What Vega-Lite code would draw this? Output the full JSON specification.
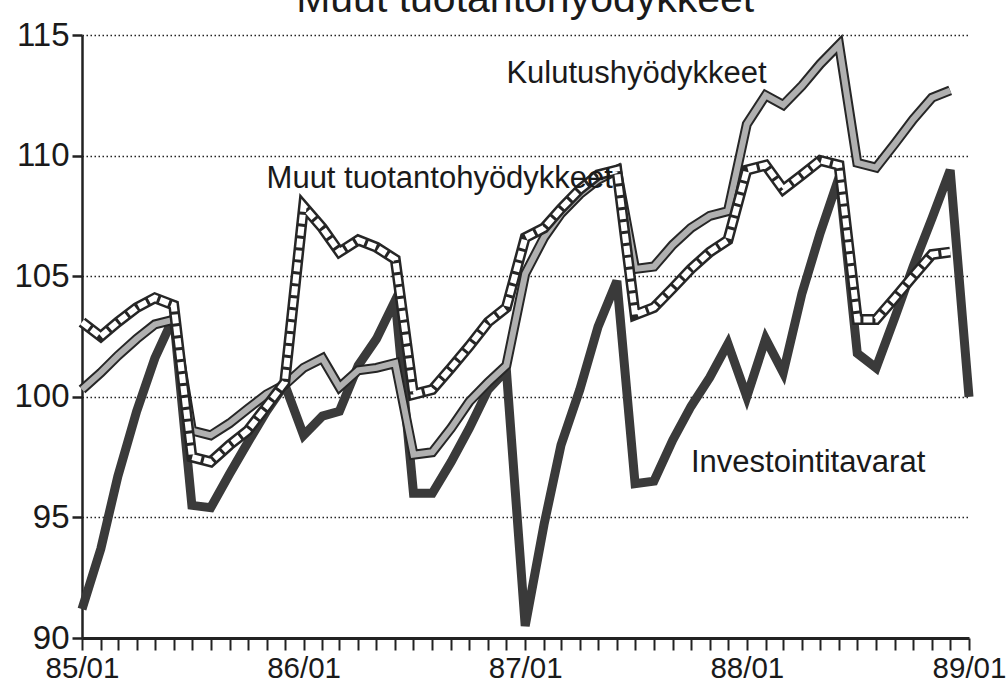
{
  "$schema": "https://vega.github.io/schema/vega-lite/v6.json",
  "width": 887,
  "height": 603,
  "autosize": {"type": "none"},
  "padding": {"left": 82, "top": 35, "right": 37, "bottom": 49},
  "background": "#ffffff",
  "config": {"view": {"stroke": null}, "font": "Liberation Sans"},
  "datasets": {
    "investointi": [
      {"date":"1985-01-01","value":91.2},{"date":"1985-02-01","value":93.7},{"date":"1985-03-01","value":96.7},{"date":"1985-04-01","value":99.4},{"date":"1985-05-01","value":101.6},{"date":"1985-06-01","value":103.3},{"date":"1985-07-01","value":95.5},{"date":"1985-08-01","value":95.4},{"date":"1985-09-01","value":96.8},{"date":"1985-10-01","value":98.1},{"date":"1985-11-01","value":99.4},{"date":"1985-12-01","value":100.5},
      {"date":"1986-01-01","value":98.4},{"date":"1986-02-01","value":99.2},{"date":"1986-03-01","value":99.4},{"date":"1986-04-01","value":101.3},{"date":"1986-05-01","value":102.4},{"date":"1986-06-01","value":104.0},{"date":"1986-07-01","value":96.0},{"date":"1986-08-01","value":96.0},{"date":"1986-09-01","value":97.3},{"date":"1986-10-01","value":98.7},{"date":"1986-11-01","value":100.3},{"date":"1986-12-01","value":101.1},
      {"date":"1987-01-01","value":90.5},{"date":"1987-02-01","value":94.7},{"date":"1987-03-01","value":98.0},{"date":"1987-04-01","value":100.3},{"date":"1987-05-01","value":102.9},{"date":"1987-06-01","value":104.8},{"date":"1987-07-01","value":96.4},{"date":"1987-08-01","value":96.5},{"date":"1987-09-01","value":98.2},{"date":"1987-10-01","value":99.6},{"date":"1987-11-01","value":100.8},{"date":"1987-12-01","value":102.2},
      {"date":"1988-01-01","value":100.0},{"date":"1988-02-01","value":102.4},{"date":"1988-03-01","value":101.0},{"date":"1988-04-01","value":104.3},{"date":"1988-05-01","value":106.8},{"date":"1988-06-01","value":109.1},{"date":"1988-07-01","value":101.8},{"date":"1988-08-01","value":101.2},{"date":"1988-09-01","value":103.3},{"date":"1988-10-01","value":105.4},{"date":"1988-11-01","value":107.4},{"date":"1988-12-01","value":109.4},
      {"date":"1989-01-01","value":100.0}
    ],
    "kulutus": [
      {"date":"1985-01-01","value":100.3},{"date":"1985-02-01","value":101.0},{"date":"1985-03-01","value":101.7},{"date":"1985-04-01","value":102.4},{"date":"1985-05-01","value":103.0},{"date":"1985-06-01","value":103.2},{"date":"1985-07-01","value":98.6},{"date":"1985-08-01","value":98.4},{"date":"1985-09-01","value":98.9},{"date":"1985-10-01","value":99.5},{"date":"1985-11-01","value":100.1},{"date":"1985-12-01","value":100.5},
      {"date":"1986-01-01","value":101.2},{"date":"1986-02-01","value":101.6},{"date":"1986-03-01","value":100.4},{"date":"1986-04-01","value":101.1},{"date":"1986-05-01","value":101.2},{"date":"1986-06-01","value":101.4},{"date":"1986-07-01","value":97.6},{"date":"1986-08-01","value":97.7},{"date":"1986-09-01","value":98.7},{"date":"1986-10-01","value":99.8},{"date":"1986-11-01","value":100.6},{"date":"1986-12-01","value":101.3},
      {"date":"1987-01-01","value":105.1},{"date":"1987-02-01","value":106.6},{"date":"1987-03-01","value":107.6},{"date":"1987-04-01","value":108.4},{"date":"1987-05-01","value":109.0},{"date":"1987-06-01","value":109.4},{"date":"1987-07-01","value":105.3},{"date":"1987-08-01","value":105.4},{"date":"1987-09-01","value":106.3},{"date":"1987-10-01","value":107.0},{"date":"1987-11-01","value":107.5},{"date":"1987-12-01","value":107.7},
      {"date":"1988-01-01","value":111.3},{"date":"1988-02-01","value":112.5},{"date":"1988-03-01","value":112.1},{"date":"1988-04-01","value":112.9},{"date":"1988-05-01","value":113.8},{"date":"1988-06-01","value":114.6},{"date":"1988-07-01","value":109.7},{"date":"1988-08-01","value":109.5},{"date":"1988-09-01","value":110.5},{"date":"1988-10-01","value":111.5},{"date":"1988-11-01","value":112.4},{"date":"1988-12-01","value":112.7}
    ],
    "muut": [
      {"date":"1985-01-01","value":103.1},{"date":"1985-02-01","value":102.5},{"date":"1985-03-01","value":103.1},{"date":"1985-04-01","value":103.7},{"date":"1985-05-01","value":104.1},{"date":"1985-06-01","value":103.8},{"date":"1985-07-01","value":97.5},{"date":"1985-08-01","value":97.3},{"date":"1985-09-01","value":98.0},{"date":"1985-10-01","value":98.6},{"date":"1985-11-01","value":99.6},{"date":"1985-12-01","value":100.6},
      {"date":"1986-01-01","value":107.9},{"date":"1986-02-01","value":107.0},{"date":"1986-03-01","value":106.0},{"date":"1986-04-01","value":106.5},{"date":"1986-05-01","value":106.2},{"date":"1986-06-01","value":105.7},{"date":"1986-07-01","value":100.1},{"date":"1986-08-01","value":100.3},{"date":"1986-09-01","value":101.2},{"date":"1986-10-01","value":102.1},{"date":"1986-11-01","value":103.1},{"date":"1986-12-01","value":103.7},
      {"date":"1987-01-01","value":106.6},{"date":"1987-02-01","value":107.0},{"date":"1987-03-01","value":107.8},{"date":"1987-04-01","value":108.6},{"date":"1987-05-01","value":109.2},{"date":"1987-06-01","value":109.4},{"date":"1987-07-01","value":103.4},{"date":"1987-08-01","value":103.7},{"date":"1987-09-01","value":104.5},{"date":"1987-10-01","value":105.3},{"date":"1987-11-01","value":106.0},{"date":"1987-12-01","value":106.5},
      {"date":"1988-01-01","value":109.4},{"date":"1988-02-01","value":109.6},{"date":"1988-03-01","value":108.6},{"date":"1988-04-01","value":109.2},{"date":"1988-05-01","value":109.8},{"date":"1988-06-01","value":109.6},{"date":"1988-07-01","value":103.2},{"date":"1988-08-01","value":103.2},{"date":"1988-09-01","value":104.1},{"date":"1988-10-01","value":105.0},{"date":"1988-11-01","value":105.9},{"date":"1988-12-01","value":106.0}
    ],
    "labels": [
      {"date":"1986-12-01","value":113.4,"label":"Kulutushyödykkeet"},
      {"date":"1985-11-01","value":109.05,"label":"Muut tuotantohyödykkeet"},
      {"date":"1987-10-01","value":97.26,"label":"Investointitavarat"}
    ],
    "title": [
      {"date":"1987-01-01","value":115.95,"label":"Muut tuotantohyödykkeet"}
    ]
  },
  "encoding": {
    "x": {"field": "date", "type": "temporal",
      "scale": {"type": "utc", "nice": false},
      "axis": {"title": null, "grid": false, "tickCount": {"interval": "month", "step": 1},
        "labelExpr": "utcFormat(datum.value, '%m') == '01' ? utcFormat(datum.value, '%y/%m') : ''",
        "labelOverlap": false, "labelFlush": false, "labelFontSize": 29.5, "labelFont": "Liberation Sans", "labelColor": "#1a1a1a", "labelPadding": 4,
        "domainColor": "#222222", "domainWidth": 3, "tickColor": "#222222", "tickWidth": 2, "tickSize": 12}},
    "y": {"field": "value", "type": "quantitative",
      "scale": {"domain": [90, 115], "nice": false, "zero": false},
      "axis": {"title": null, "values": [90, 95, 100, 105, 110, 115], "grid": true, "gridDash": [1.5, 2.5], "gridColor": "#222222", "gridWidth": 1.5, "gridOpacity": 1,
        "domainColor": "#222222", "domainWidth": 2.5, "tickColor": "#222222", "tickWidth": 2.5, "tickSize": 10,
        "labelFontSize": 33, "labelFont": "Liberation Sans", "labelColor": "#1a1a1a", "labelPadding": 3, "labelBaseline": "middle"}}
  },
  "layer": [
    {"data": {"name": "investointi"}, "mark": {"type": "line", "stroke": "#3a3a3a", "strokeWidth": 9, "strokeJoin": "miter", "strokeCap": "butt"}},
    {"data": {"name": "kulutus"}, "mark": {"type": "line", "stroke": "#262626", "strokeWidth": 10, "strokeJoin": "miter", "strokeCap": "butt"}},
    {"data": {"name": "kulutus"}, "mark": {"type": "line", "stroke": "#b0b0b0", "strokeWidth": 6, "strokeJoin": "miter", "strokeCap": "butt"}},
    {"data": {"name": "muut"}, "mark": {"type": "line", "stroke": "#262626", "strokeWidth": 11, "strokeJoin": "miter", "strokeCap": "butt"}},
    {"data": {"name": "muut"}, "mark": {"type": "line", "stroke": "#ffffff", "strokeWidth": 6, "strokeDash": [9, 3], "strokeJoin": "miter", "strokeCap": "butt"}},
    {"data": {"name": "labels"}, "mark": {"type": "text", "align": "left", "baseline": "middle", "fontSize": 31, "font": "Liberation Sans", "color": "#1a1a1a"},
      "encoding": {"text": {"field": "label", "type": "nominal"}}},
    {"data": {"name": "title"}, "mark": {"type": "text", "align": "center", "baseline": "alphabetic", "fontSize": 41, "font": "Liberation Sans", "color": "#1a1a1a", "clip": false},
      "encoding": {"text": {"field": "label", "type": "nominal"}}}
  ]
}
